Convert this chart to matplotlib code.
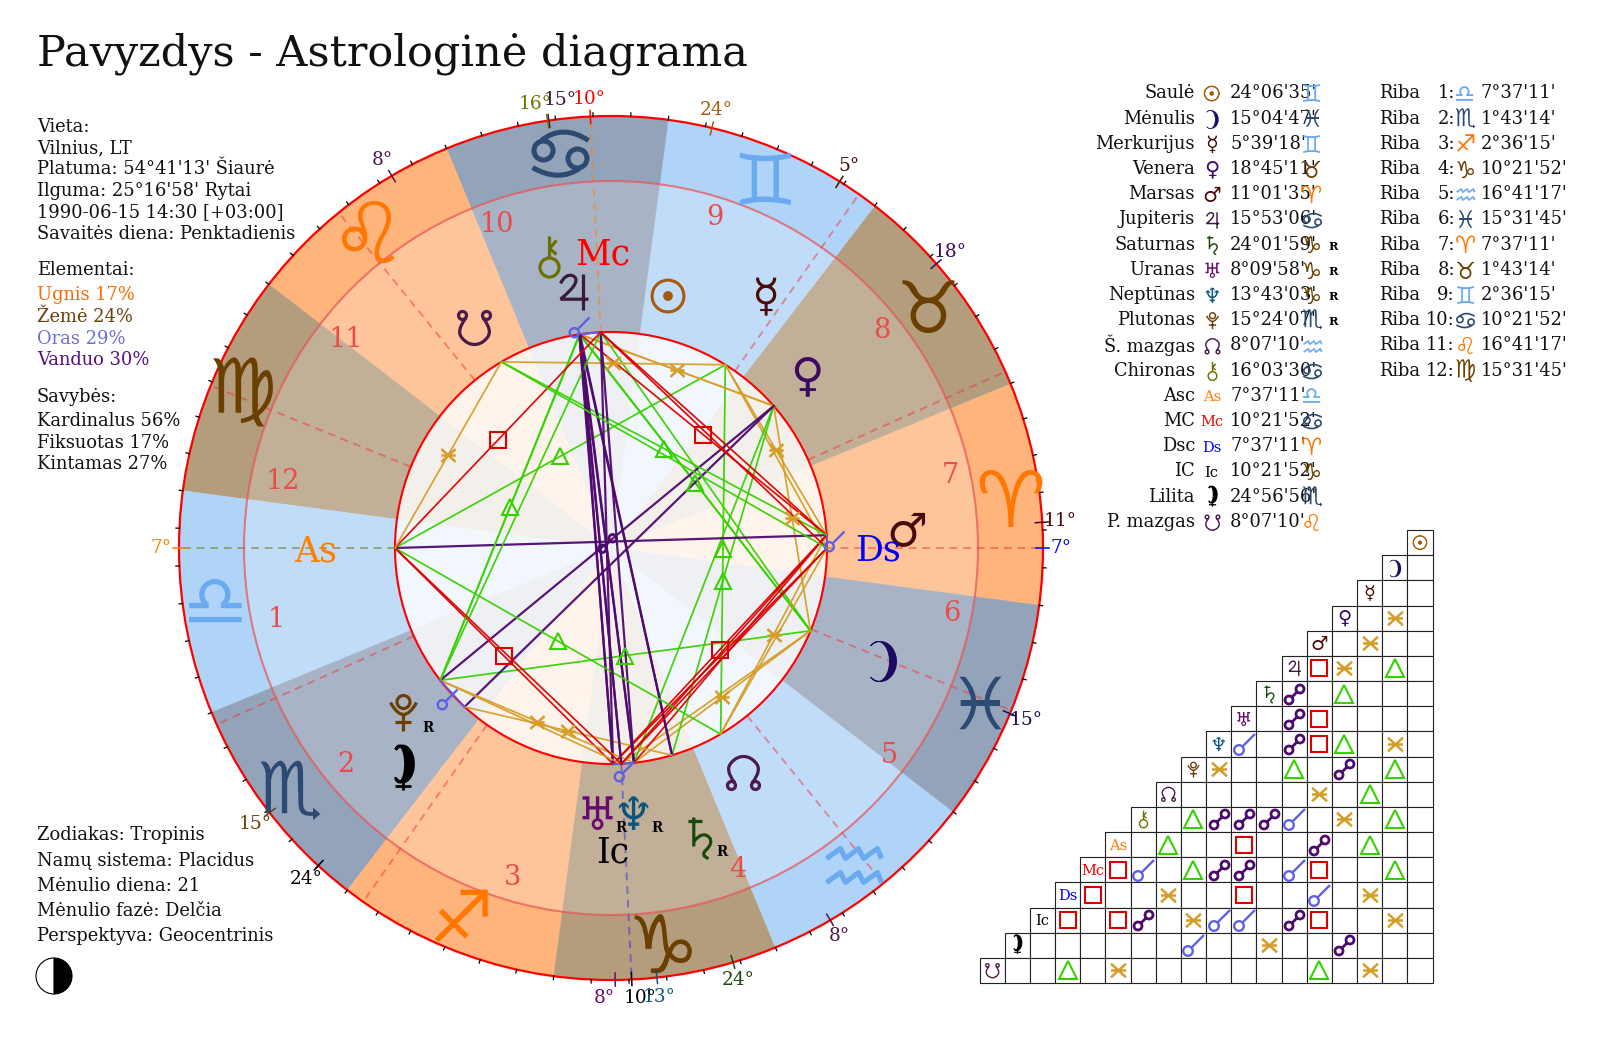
import numpy as np
import matplotlib
matplotlib.use("Agg")
import matplotlib.pyplot as plt
import matplotlib.patheffects as pe
from matplotlib.font_manager import FontProperties
from matplotlib.patches import Wedge, Circle, Rectangle
from matplotlib.path import Path
from matplotlib.textpath import TextPath

plt.rcParams['font.family'] = ['DejaVu Serif', 'DejaVu Sans']

# planets, in the order of the right hand table
point_names = ["Saulė", "Mėnulis", "Merkurijus", "Venera", "Marsas", "Jupiteris", "Saturnas", "Uranas",
               "Neptūnas", "Plutonas", "Š. mazgas", "Chironas", "Asc", "MC", "Dsc", "IC", "Lilita", "P. mazgas"]
point_keys = ["sun", "moon", "merc", "ven", "mars", "jup", "sat", "ura", "nep", "plu", "nnode", "chi",
              "as", "mc", "ds", "ic", "lil", "snode"]
point_glyphs = ["☉", "☽", "☿", "♀", "♂", "♃", "♄", "♅", "♆", "PLUTO", "☊", "CHIRON", "As", "Mc", "Ds", "Ic", "LILITH", "☋"]
point_colors = ["#A65A0A", "#1C0A60", "#4A0A05", "#3C0A60", "#4A0A0A", "#3C1A40", "#1A4A0A", "#6A0A70",
                "#0A5580", "#6B3F05", "#4A1A4A", "#6B7000", "#FF7F00", "#FF0000", "#0000FF", "#000000",
                "#000000", "#4A1A4A"]
point_lon = [84.11, 345.08, 65.66, 48.75, 11.03, 105.89, 294.03, 278.17, 283.72, 225.40, 308.12, 106.06,
             187.62, 100.36, 7.62, 280.36, 234.95, 128.12]
point_deg = ["24°06'35'", "15°04'47'", "5°39'18'", "18°45'11'", "11°01'35'", "15°53'06'", "24°01'59'", "8°09'58'",
             "13°43'03'", "15°24'07'", "8°07'10'", "16°03'30'", "7°37'11'", "10°21'52'", "7°37'11'", "10°21'52'",
             "24°56'56'", "8°07'10'"]
point_short = ["24°", "15°", "5°", "18°", "11°", "15°", "24°", "8°", "13°", "15°", "8°", "16°", "7°", "10°", "7°", "10°", "24°", "8°"]
point_sign = [2, 11, 2, 1, 0, 3, 9, 9, 9, 7, 10, 3, 6, 3, 0, 9, 7, 4]
retro = ["sat", "ura", "nep", "plu"]

sign_glyphs = ["♈", "♉", "♊", "♋", "♌", "♍", "♎", "♏", "♐", "♑", "♒", "♓"]
sign_element = ["fire", "earth", "air", "water"] * 3

cusp_deg = ["7°37'11'", "1°43'14'", "2°36'15'", "10°21'52'", "16°41'17'", "15°31'45'",
            "7°37'11'", "1°43'14'", "2°36'15'", "10°21'52'", "16°41'17'", "15°31'45'"]
cusp_sign = [6, 7, 8, 9, 10, 11, 0, 1, 2, 3, 4, 5]
cusp_lon = [187.62, 211.72, 242.60, 280.36, 316.69, 345.53, 7.62, 31.72, 62.60, 100.36, 136.69, 165.53]

conjunctions = [("nep", "ura"), ("chi", "jup"), ("mc", "jup"), ("mc", "chi"), ("ds", "mars"),
                ("ic", "ura"), ("ic", "nep"), ("lil", "plu")]
oppositions = [("sat", "jup"), ("ura", "jup"), ("nep", "jup"), ("plu", "ven"), ("chi", "sat"), ("chi", "ura"),
               ("chi", "nep"), ("as", "mars"), ("mc", "ura"), ("mc", "nep"), ("ic", "jup"), ("ic", "chi"), ("lil", "ven")]
squares = [("jup", "mars"), ("ura", "mars"), ("nep", "mars"), ("as", "ura"), ("mc", "mars"), ("mc", "as"),
           ("ds", "ura"), ("ds", "mc"), ("ic", "mars"), ("ic", "as"), ("ic", "ds")]
trines = [("jup", "moon"), ("sat", "ven"), ("nep", "ven"), ("plu", "moon"), ("plu", "jup"), ("nnode", "merc"),
          ("chi", "moon"), ("chi", "plu"), ("as", "merc"), ("as", "nnode"), ("mc", "moon"), ("mc", "plu"),
          ("snode", "mars"), ("snode", "ds")]
sextiles = [("ven", "moon"), ("mars", "merc"), ("jup", "ven"), ("nep", "moon"), ("plu", "nep"), ("nnode", "mars"),
            ("chi", "ven"), ("ds", "merc"), ("ds", "nnode"), ("ic", "moon"), ("ic", "plu"), ("lil", "sat"),
            ("snode", "merc"), ("snode", "as")]

info_top = ["Vieta:", "Vilnius, LT", "Platuma: 54°41'13' Šiaurė", "Ilguma: 25°16'58' Rytai",
            "1990-06-15 14:30 [+03:00]", "Savaitės diena: Penktadienis"]
info_elem = ["Ugnis 17%", "Žemė 24%", "Oras 29%", "Vanduo 30%"]
elem_colors = ["#FF6A00", "#6B3F10", "#6F6FD8", "#5A0F80"]
info_qual = ["Kardinalus 56%", "Fiksuotas 17%", "Kintamas 27%"]
info_bottom = ["Zodiakas: Tropinis", "Namų sistema: Placidus", "Mėnulio diena: 21", "Mėnulio fazė: Delčia",
               "Perspektyva: Geocentrinis"]

# layout, all in pixels of the output picture
CX, CY = 611, 548
R, R_MID, R_IN = 432, 367, 216
ASC = 187.62
MARK_GAP = 25
outer_col = {"fire": "#FFB47C", "earth": "#B39D7D", "air": "#B0D4F7", "water": "#93A3B9"}
mid_col = {"fire": "#FFC59A", "earth": "#C1B097", "air": "#C0DCF9", "water": "#A8B4C6"}
in_col = {"fire": "#FEF4EC", "earth": "#F3F0EB", "air": "#F2F7FE", "water": "#EEF0F4"}
sign_col = {"fire": "#FF7700", "earth": "#6B3F00", "air": "#6AAAF0", "water": "#2D4A73"}
aspect_col = {"conj": "#5E60E6", "opp": "#4F0A70", "sq": "#DC0000", "tri": "#36D100", "sex": "#D59E28"}

sign_xy = [(1010, 498), (928, 307), (765, 178), (560, 153), (367, 232), (243, 393), (215, 600), (290, 790),
           (460, 915), (663, 943), (853, 865), (980, 702)]
sign_scale = [1.08, 1.0, 1.0, 1.0, 1.18, 1.05, 1.0, 1.0, 1.0, 1.12, 1.0, 1.0]
house_xy = [(276, 617), (345, 762), (513, 875), (737, 867), (889, 753), (952, 611), (951, 473), (882, 328),
            (715, 215), (498, 222), (346, 337), (283, 479)]
planet_xy = {"sun": (668, 296), "moon": (883, 661), "merc": (765, 297), "ven": (807, 376), "mars": (907, 530),
             "jup": (573, 292), "sat": (700, 838), "ura": (597, 813), "nep": (633, 813), "plu": (403, 712),
             "nnode": (743, 773), "chi": (549, 257), "as": (315, 549), "mc": (603, 252), "ds": (878, 548),
             "ic": (613, 850), "lil": (403, 770), "snode": (474, 327)}
planet_size = {"as": 25, "mc": 25, "ds": 25, "ic": 25}
retro_xy = {"sat": (722, 851), "ura": (621, 827), "nep": (657, 827), "plu": (428, 727)}
label_xy = {"chi": (535, 104), "jup": (560, 100), "ura": (604, 998), "ic": (640, 998), "nep": (659, 997)}


def screen_angle(lon):
    return lon + 180 - ASC


def pol(r, lon):
    t = np.radians(screen_angle(lon))
    return CX + r * np.cos(t), CY - r * np.sin(t)


def ring(r=1.0, x=0.0, y=0.0):
    t = Path.unit_circle()
    return Path(t.vertices * r + [x, y], t.codes)


def seg(*pts):
    return Path(pts, [Path.MOVETO] + [Path.LINETO] * (len(pts) - 1))


def quad(p0, c, p1):
    return Path([p0, c, p1], [Path.MOVETO, Path.CURVE3, Path.CURVE3])


def crescent(cx, cy, w, h, thick):
    # tips on the left, belly on the right
    a_out = np.radians(np.linspace(128, -128, 30))
    a_in = a_out[::-1]
    left = cx - w / 2
    inner_w = w - thick
    outer = np.column_stack([left + 0.385 * w + 0.615 * w * np.cos(a_out), cy + 0.625 * h * np.sin(a_out)])
    inner = np.column_stack([left + 0.385 * inner_w + 0.615 * inner_w * np.cos(a_in), cy + 0.625 * h * np.sin(a_in)])
    return Path(np.vstack([outer, inner]))


NODE_UP = [quad((-9, -9), (-19, 4), (-12, 11)), quad((-12, 11), (-7, 17), (0, 17)),
           quad((0, 17), (7, 17), (12, 11)), quad((12, 11), (19, 4), (9, -9))]
NODE_PATH = Path.make_compound_path(ring(4, -12, -12), ring(4, 12, -12), *NODE_UP)
SNODE_PATH = Path(NODE_PATH.vertices * [1, -1], NODE_PATH.codes)

# shapes in reference pixels, y up; nominal size is the text size they stand in for
CONJ_PATH = Path.make_compound_path(ring(4.8, -5.5, -5.5), seg((-2.2, -2.2), (10.5, 10.5)))
OPP_PATH = Path.make_compound_path(ring(4.0, -5.5, -5.5), ring(4.0, 5.5, 5.5), seg((-2.7, -2.7), (2.7, 2.7)))
SEX_PATH = Path.make_compound_path(seg((-7.5, 0), (7.5, 0)), seg((-7.5, -6.8), (7.5, 6.8)), seg((-7.5, 6.8), (7.5, -6.8)))
CUSTOM = {
    "CHIRON": (33, False, Path.make_compound_path(ring(9.5, 0, -10), seg((0, 0), (0, 21)), seg((7, 17), (0, 9), (7, 3)))),
    "PLUTO": (33, False, Path.make_compound_path(ring(6.5, 0, 10.5), quad((-13, 10), (0, -14), (13, 10)),
                                                 seg((0, -2), (0, -19)), seg((-8, -10), (8, -10)))),
    "LILITH": (33, True, Path.make_compound_path(crescent(1, 6.5, 18, 29, 8),
                                                 seg((0, -8), (0, -20)), seg((-8, -16), (8, -16)))),
    "☽": (33, True, crescent(0, 0, 26, 32, 7)),
    "☊": (33, False, NODE_PATH),
    "☋": (33, False, SNODE_PATH),
    "♃": (33, False, Path.make_compound_path(seg((10, 18), (10, -18)), seg((-13, -6.7), (15, -6.7)),
                                             quad((-13, 9), (-8, 19), (-1, 17)), quad((-1, 17), (10, 12), (-13, -6.7)))),
    "♄": (33, False, Path.make_compound_path(seg((-6.7, 21), (-6.7, -8)), seg((-12, 17), (2, 17)),
                                             quad((-6.7, -3), (2, 8), (9, 1)), quad((9, 1), (13, -5), (5, -12)),
                                             quad((5, -12), (0, -17), (8, -20)))),
    "♋": (52, False, Path.make_compound_path(ring(9.5, -17, 3), ring(9.5, 17, -5),
                                             quad((-19, 13), (2, 30), (28, 13)), quad((-28, -14), (-2, -29), (19, -15)))),
    "♒": (52, False, Path.make_compound_path(
        seg((-27, 7), (-13, 17), (-8, 7), (5, 17), (10, 7), (24, 17), (28, 7)),
        seg((-27, -17), (-13, -7), (-8, -17), (5, -7), (10, -17), (24, -7), (28, -17)))),
}

fig = plt.figure(figsize=(16, 10.43), dpi=100)
ax = fig.add_axes([0, 0, 1, 1])
ax.set_xlim(0, 1600)
ax.set_ylim(1043, 0)
ax.axis("off")


def marker_at(x, y, path, scale, color, mew, fill="none", z=5):
    # matplotlib scales a path marker by its largest coordinate
    ms = 2 * np.max(np.abs(path.vertices)) * scale * 0.72
    ax.plot([x], [y], marker=path, ms=ms, mfc=fill, mec=color, mew=mew, ls="none", zorder=z)


def centered(x, y, s, size, color, family, z=6, weight="normal", bold=0):
    # real text, with the ink of the glyphs centred on x, y
    fp = FontProperties(family=family, weight=weight)
    px = size * 100 / 72
    box = TextPath((0, 0), s, size=px, prop=fp).get_extents()
    t = ax.text(x - (box.x0 + box.x1) / 2, y + (box.y0 + box.y1) / 2, s, fontsize=size, color=color,
                ha="left", va="baseline", family=family, weight=weight, zorder=z)
    if bold:
        t.set_path_effects([pe.withStroke(linewidth=bold, foreground=color)])
    return t


def sym(x, y, glyph, size, color, z=6):
    if glyph in CUSTOM:
        nominal, filled, path = CUSTOM[glyph]
        mew = size * 0.07
        if glyph == "☽":
            mew = size * 0.02
        if glyph == "LILITH":
            mew = size * 0.06
        marker_at(x, y, path, size / nominal, color, mew, fill=color if filled else "none", z=z)
    elif glyph in ("As", "Mc", "Ds", "Ic"):
        centered(x, y, glyph, size, color, "DejaVu Serif", z=z)
    else:
        centered(x, y, glyph, size, color, "DejaVu Sans", z=z, bold=size * 0.03 if glyph == "☉" else 0)


def aspect_mark(kind, x, y, scale=1.0, z=5):
    col = aspect_col[kind]
    if kind == "sq":
        ax.plot([x], [y], marker="s", ms=11.5 * scale, mfc="none", mec=col, mew=1.5, ls="none", zorder=z)
    elif kind == "tri":
        ax.plot([x], [y], marker="^", ms=12.5 * scale, mfc="none", mec=col, mew=1.5, ls="none", zorder=z)
    elif kind == "sex":
        marker_at(x, y, SEX_PATH, scale, col, 1.8, z=z)
    elif kind == "conj":
        marker_at(x, y, CONJ_PATH, scale, col, 1.7, z=z)
    elif kind == "opp":
        marker_at(x, y, OPP_PATH, scale, col, 2.0, z=z)


# sign sectors: outer band, house band and the pale inner disc
for i in range(12):
    a0 = screen_angle(i * 30)
    a1 = a0 + 30
    el = sign_element[i]
    ax.add_patch(Wedge((CX, CY), R, -a1, -a0, width=R - R_MID, fc=outer_col[el], ec=outer_col[el], lw=0.3, zorder=1))
    ax.add_patch(Wedge((CX, CY), R_MID, -a1, -a0, width=R_MID - R_IN, fc=mid_col[el], ec=mid_col[el], lw=0.3, zorder=1))
    ax.add_patch(Wedge((CX, CY), R_IN, -a1, -a0, fc=in_col[el], ec=in_col[el], lw=0.3, zorder=1))

# house cusps
for i, lon in enumerate(cusp_lon):
    col, al = "#F03030", 0.48
    if i == 0:
        col, al = "#7F8F40", 0.7
    if i == 9:
        col, al = "#FF7F00", 0.5
    if i == 3:
        col, al = "#2A2AE0", 0.5
    x0, y0 = pol(R_IN, lon)
    x1, y1 = pol(R - 4, lon)
    ax.plot([x0, x1], [y0, y1], color=col, alpha=al, lw=1.4, ls=(0, (4, 3)), zorder=2)
    hx, hy = house_xy[i]
    centered(hx, hy, str(i + 1), 19.5, "#E84C4C", "DejaVu Serif", z=3)

ax.add_patch(Circle((CX, CY), R_MID, fc="none", ec="#E85050", alpha=0.7, lw=1.5, zorder=3))
ax.add_patch(Circle((CX, CY), R, fc="none", ec="#FF0000", lw=1.6, zorder=3))
ax.add_patch(Circle((CX, CY), R_IN, fc="none", ec="#FF0000", lw=1.5, zorder=3))

# five degree ticks
for lon in range(0, 360, 5):
    x0, y0 = pol(R, lon)
    x1, y1 = pol(R + 3.5, lon)
    ax.plot([x0, x1], [y0, y1], color="#000000", lw=0.9, zorder=3)

# zodiac glyphs
for i in range(12):
    x, y = sign_xy[i]
    sym(x, y, sign_glyphs[i], 52 * sign_scale[i], sign_col[sign_element[i]], z=4)

# points on the wheel
for i, key in enumerate(point_keys):
    col = point_colors[i]
    x0, y0 = pol(R - 7, point_lon[i])
    x1, y1 = pol(R + 6, point_lon[i])
    ax.plot([x0, x1], [y0, y1], color=col, lw=1.1, zorder=4)
    lx, ly = label_xy.get(key, pol(450, point_lon[i]))
    ax.text(lx, ly, point_short[i], fontsize=13.3, color=col, ha="center", va="center", zorder=5)
    px, py = planet_xy[key]
    sym(px, py, point_glyphs[i], planet_size.get(key, 33), col)
    if key in retro:
        rx, ry = retro_xy[key]
        centered(rx, ry, "R", 9.8, "#000000", "DejaVu Serif", weight="bold")

# aspect lines, a mark in the middle unless one is already close by
aspect_sets = [("sex", sextiles), ("tri", trines), ("sq", squares), ("opp", oppositions), ("conj", conjunctions)]
lon_of = dict(zip(point_keys, point_lon))
idx = {k: i for i, k in enumerate(point_keys)}
all_aspects = [(kind, a, b) for kind, pairs in aspect_sets for a, b in pairs]
all_aspects.sort(key=lambda p: (min(idx[p[1]], idx[p[2]]), max(idx[p[1]], idx[p[2]])))
placed = []
for kind, a, b in all_aspects:
    x0, y0 = pol(R_IN, lon_of[a])
    x1, y1 = pol(R_IN, lon_of[b])
    lw = 1.6 if kind == "opp" else 1.25
    ax.plot([x0, x1], [y0, y1], color=aspect_col[kind], lw=lw, alpha=0.95, zorder=4)
    if kind == "conj":
        mx, my = pol(R_IN + 7, (lon_of[a] + lon_of[b]) / 2)
    else:
        mx, my = (x0 + x1) / 2, (y0 + y1) / 2
    if any(np.hypot(mx - qx, my - qy) < MARK_GAP for qx, qy in placed):
        continue
    placed.append((mx, my))
    aspect_mark(kind, mx, my, scale=0.95)

# title and left hand text
ax.text(37, 54, "Pavyzdys - Astrologinė diagrama", fontsize=31.0, color="#111111", ha="left", va="center")
TXT = 12.9
for y, s in zip([127, 148, 169, 191, 212, 234], info_top):
    ax.text(37, y, s, fontsize=TXT, color="#111111", ha="left", va="center")
ax.text(37, 270, "Elementai:", fontsize=TXT, color="#111111", ha="left", va="center")
for y, s, c in zip([295.5, 317, 338.5, 360], info_elem, elem_colors):
    ax.text(37, y, s, fontsize=TXT, color=c, ha="left", va="center")
ax.text(37, 397, "Savybės:", fontsize=TXT, color="#111111", ha="left", va="center")
for y, s in zip([421, 443, 464], info_qual):
    ax.text(37, y, s, fontsize=TXT, color="#111111", ha="left", va="center")
for y, s in zip([835, 861, 886, 911, 936], info_bottom):
    ax.text(37, y, s, fontsize=TXT, color="#111111", ha="left", va="center")

# moon phase icon
ax.add_patch(Wedge((54, 976), 18, -90, 90, fc="#000000", ec="#000000", lw=0.8, zorder=3))
ax.add_patch(Wedge((54, 976), 18, 90, 270, fc="#FFFFFF", ec="#000000", lw=0.8, zorder=3))

# position table
ROW0, ROWH = 93.5, 25.2
for i in range(18):
    y = ROW0 + i * ROWH
    ax.text(1195, y, point_names[i], fontsize=TXT, color="#111111", ha="right", va="center")
    fs = 10.5 if point_keys[i] in ("as", "mc", "ds", "ic") else 15
    sym(1211.7, y, point_glyphs[i], fs, point_colors[i])
    ax.text(1230, y, point_deg[i], fontsize=TXT, color="#111111", ha="left", va="center", zorder=5)
    sg = point_sign[i]
    sym(1311.7, y, sign_glyphs[sg], 17, sign_col[sign_element[sg]])
    if point_keys[i] in retro:
        centered(1333, y + 1, "R", 8.2, "#000000", "DejaVu Serif", weight="bold")

# house cusps table
for i in range(12):
    y = ROW0 + i * ROWH
    ax.text(1379, y, "Riba", fontsize=TXT, color="#111111", ha="left", va="center")
    ax.text(1455, y, "%d:" % (i + 1), fontsize=TXT, color="#111111", ha="right", va="center")
    sg = cusp_sign[i]
    sym(1465, y, sign_glyphs[sg], 17, sign_col[sign_element[sg]])
    ax.text(1480.7, y, cusp_deg[i], fontsize=TXT, color="#111111", ha="left", va="center")

# aspect grid
CELL = 25.17
GX, GY = 979.5, 530
for i in range(18):
    y = GY + i * CELL
    for j in range(17 - i, 18):
        ax.add_patch(Rectangle((GX + j * CELL, y), CELL, CELL, fc="#FFFFFF", ec="#222222", lw=0.8, zorder=2))
    hx = GX + (17 - i + 0.5) * CELL
    fs = 10.5 if point_keys[i] in ("as", "mc", "ds", "ic") else 14
    sym(hx, y + CELL / 2, point_glyphs[i], fs, point_colors[i], z=6)

for kind, pairs in aspect_sets:
    for a, b in pairs:
        row = max(idx[a], idx[b])
        other = min(idx[a], idx[b])
        aspect_mark(kind, GX + (17 - other + 0.5) * CELL, GY + (row + 0.5) * CELL, z=7)

fig.savefig("out.png", dpi=100)
